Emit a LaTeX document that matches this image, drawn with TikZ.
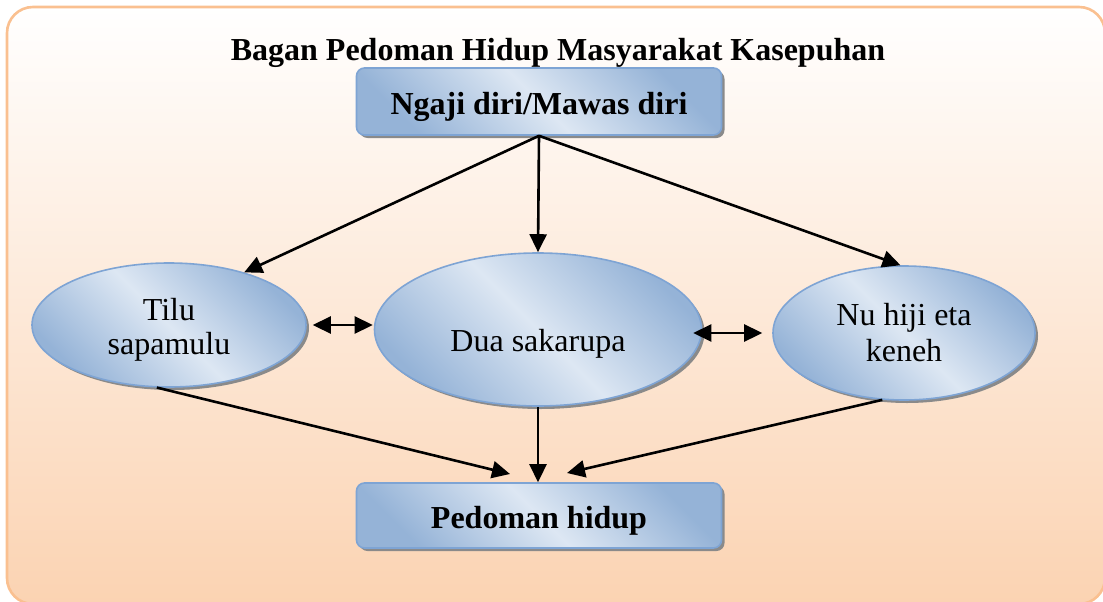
\documentclass[tikz,border=0pt]{standalone}
\usepackage{fontspec}
\setmainfont{Liberation Serif}
\usetikzlibrary{arrows.meta,shapes.geometric,shadows}
\definecolor{frameline}{HTML}{FAC090}
\definecolor{framebot}{HTML}{FBD3B2}
\definecolor{bluedark}{HTML}{95B3D7}
\definecolor{bluelight}{HTML}{DDE7F3}
\definecolor{blueline}{HTML}{7EA4D4}
\definecolor{shadowgray}{HTML}{8A8A8A}
\tikzset{
  bluefill/.style={draw=blueline, line width=1.6pt,
    left color=bluedark, right color=bluedark, middle color=bluelight,
    shading angle=-45,
    drop shadow={shadow xshift=3pt, shadow yshift=-3pt, fill=shadowgray, opacity=1}},
  boxnode/.style={bluefill, rectangle, rounded corners=8pt, minimum width=365pt,
    inner sep=0pt, font=\fontsize{32}{35}\selectfont\bfseries,
    text height=25pt, text depth=0pt},
  ellnode/.style={bluefill, ellipse, inner sep=0pt, align=center,
    font=\fontsize{32}{35}\selectfont},
  conn/.style={line width=2.6pt, -{Triangle[length=18pt,width=17pt]}},
  dconn/.style={line width=2.6pt, {Triangle[length=18pt,width=17pt]}-{Triangle[length=18pt,width=17pt]}}
}
\begin{document}
\begin{tikzpicture}[x=1pt,y=-1pt]
\useasboundingbox (0,0) rectangle (1103,602);
% frame
\path[draw=frameline, line width=2.6pt, rounded corners=26pt,
  top color=white, bottom color=framebot] (7,7) rectangle (1105,604);
% title
\node[font=\fontsize{32}{35}\selectfont\bfseries, anchor=base, inner sep=0pt] (title) at (558,60) {Bagan Pedoman Hidup Masyarakat Kasepuhan};
% boxes
\node[boxnode, minimum height=67pt] (T) at (539,101.5) {Ngaji diri/Mawas diri};
\node[boxnode, minimum height=65pt] (P) at (539,515.5) {Pedoman hidup};
% ellipses
\node[ellnode, minimum width=274pt, minimum height=124pt] (L) at (169,325) {\rule{0pt}{32pt}Tilu\\[-1pt]sapamulu};
\node[ellnode, minimum width=327pt, minimum height=153pt, text height=43pt, text depth=0pt] (M) at (538,329.5) {Dua sakarupa};
\node[ellnode, minimum width=262pt, minimum height=134pt] (R) at (904,333) {Nu hiji eta\\[1pt]keneh};
% free ends
\coordinate (pl) at (510,474);
\coordinate (pr) at (567,473);
% connectors
\draw[conn] (T.south) -- (L.35);
\draw[conn] (T.south) -- (M.north);
\draw[conn] (T.south) -- (R.93);
\draw[dconn] ([xshift=6pt]L.east) -- ([xshift=-1pt]M.west |- L.east);
\draw[dconn] ([xshift=-9pt]M.east |- R.west) -- ([xshift=-10pt]R.west);
\draw[conn] (L.259) -- (pl);
\draw[conn] (M.south) -- (M.south |- P.north);
\draw[conn] (R.252) -- (pr);
\end{tikzpicture}
\end{document}
